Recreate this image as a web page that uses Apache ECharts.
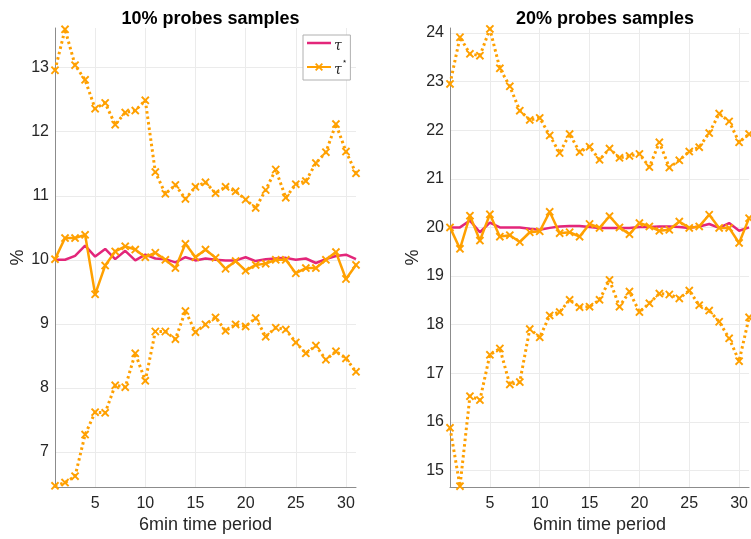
<!DOCTYPE html>
<html>
<head>
<meta charset="utf-8">
<script src="https://cdn.jsdelivr.net/npm/echarts@6/dist/echarts.min.js"></script>
<style>html,body{margin:0;padding:0;background:#fff}#c{width:751px;height:539px}</style>
</head>
<body>
<div id="c"></div>
<script>
// time periods
const periods = Array.from({length: 31}, (_, i) => i + 1);
const xTicks = [5, 10, 15, 20, 25, 30];

// 10% probes samples
const tau10 = [10.0,10.0,10.06,10.22,10.05,10.17,10.01,10.14,9.99,10.08,10.02,10.01,9.96,10.04,9.99,10.02,10.0,9.99,9.99,10.04,9.98,10.01,10.02,10.03,10.0,10.02,9.95,10.01,10.06,10.08,10.01];
const star10 = [10.01,10.34,10.34,10.39,9.46,9.91,10.13,10.21,10.16,10.04,10.11,10.0,9.87,10.25,10.04,10.16,10.03,9.86,9.98,9.83,9.92,9.94,10.0,10.0,9.79,9.87,9.87,10.0,10.12,9.70,9.92];
const upper10 = [12.96,13.60,13.04,12.81,12.36,12.45,12.11,12.30,12.33,12.49,11.37,11.03,11.17,10.95,11.14,11.21,11.04,11.14,11.07,10.94,10.81,11.09,11.41,10.97,11.18,11.23,11.51,11.68,12.12,11.69,11.35];
const lower10 = [6.47,6.52,6.62,7.27,7.62,7.61,8.04,8.01,8.54,8.11,8.88,8.88,8.76,9.20,8.87,8.99,9.10,8.89,8.99,8.96,9.09,8.80,8.94,8.91,8.71,8.54,8.66,8.44,8.57,8.46,8.25];
const yTicks10 = [7, 8, 9, 10, 11, 12, 13];

// 20% probes samples
const tau20 = [20.0,20.0,20.14,19.90,20.10,20.0,20.0,20.0,19.97,19.95,19.99,20.02,20.03,20.03,20.01,19.99,19.99,19.99,19.99,20.01,20.01,20.02,20.02,20.01,19.99,20.02,20.07,19.99,20.09,19.93,20.0];
const star20 = [20.0,19.56,20.24,19.73,20.27,19.81,19.84,19.70,19.90,19.92,20.32,19.88,19.90,19.81,20.07,19.99,20.23,20.0,19.86,20.09,20.02,19.93,19.95,20.12,19.99,20.02,20.26,19.99,19.99,19.68,20.19];
const upper20 = [22.95,23.91,23.57,23.53,24.08,23.27,22.90,22.40,22.21,22.25,21.89,21.53,21.92,21.55,21.66,21.39,21.62,21.43,21.47,21.51,21.24,21.75,21.23,21.38,21.56,21.65,21.94,22.34,22.18,21.75,21.92];
const lower20 = [15.88,14.68,16.53,16.45,17.38,17.51,16.77,16.82,17.91,17.74,18.19,18.26,18.51,18.36,18.37,18.51,18.92,18.37,18.68,18.26,18.44,18.64,18.62,18.54,18.70,18.40,18.29,18.06,17.72,17.25,18.15];
const yTicks20 = [15, 16, 17, 18, 19, 20, 21, 22, 23, 24];

const titles = ['10% probes samples', '20% probes samples'];
const xName = '6min time period';
const yName = '%';

const MAGENTA = '#E3267A';
const ORANGE = '#FFA000';
const X_SYMBOL = 'path://M0,1.6L1.6,0L5,3.4L8.4,0L10,1.6L6.6,5L10,8.4L8.4,10L5,6.6L1.6,10L0,8.4L3.4,5Z';
const LINE_ICON = 'path://M0,0L24,0L24,2.5L0,2.5Z';
const FONT = 'Helvetica, Arial, "Liberation Sans", sans-serif';

const pairs = a => a.map((v, i) => [periods[i], v]);
const tight = arrs => {
  const all = [].concat(...arrs);
  return [Math.min(...all) - 0.02, Math.max(...all) + 0.02];
};
const r10 = tight([tau10, star10, upper10, lower10]);
const r20 = tight([tau20, star20, upper20, lower20]);

const grids = [
  {left: 55, top: 28, width: 301, height: 460},
  {left: 450, top: 28, width: 300, height: 460}
];

function xAxis(gi) {
  return {
    type: 'value', gridIndex: gi, min: 1, max: 31,
    name: xName, nameLocation: 'middle', nameGap: 27,
    nameTextStyle: {fontFamily: FONT, fontSize: 18, color: '#262626'},
    axisLine: {show: true, lineStyle: {color: '#8c8c8c', width: 1}},
    axisTick: {show: false, customValues: xTicks},
    axisLabel: {customValues: xTicks, fontFamily: FONT, fontSize: 16, color: '#262626', margin: 8},
    splitLine: {show: true, lineStyle: {color: '#ebebeb', width: 1}}
  };
}
function yAxis(gi, r, ticks) {
  return {
    type: 'value', gridIndex: gi, min: r[0], max: r[1],
    name: yName, nameLocation: 'middle', nameGap: 24, nameRotate: 90,
    nameTextStyle: {fontFamily: FONT, fontSize: 18, color: '#262626'},
    axisLine: {show: true, lineStyle: {color: '#8c8c8c', width: 1}},
    axisTick: {show: false, customValues: ticks},
    axisLabel: {customValues: ticks, fontFamily: FONT, fontSize: 16, color: '#262626', margin: 6},
    splitLine: {show: true, lineStyle: {color: '#ebebeb', width: 1}}
  };
}

function tauSeries(gi, data) {
  return {
    name: 'τ', type: 'line', xAxisIndex: gi, yAxisIndex: gi, data: pairs(data),
    showSymbol: false, symbol: 'none', lineStyle: {color: MAGENTA, width: 2.5},
    itemStyle: {color: MAGENTA}, z: 3, animation: false
  };
}
function starSeries(gi, data, name, dotted) {
  return {
    name: name, type: 'line', xAxisIndex: gi, yAxisIndex: gi, data: pairs(data),
    symbol: X_SYMBOL, symbolSize: 8.5, showSymbol: true,
    lineStyle: {color: ORANGE, width: dotted ? 3 : 2.5, type: dotted ? [2.5, 3] : 'solid'},
    itemStyle: {color: ORANGE}, z: 4, animation: false
  };
}

const chart = echarts.init(document.getElementById('c'), null, {renderer: 'canvas'});
chart.setOption({
  backgroundColor: '#fff',
  animation: false,
  title: [
    {text: titles[0], left: 205.5, top: 5, textAlign: 'center',
     textStyle: {fontFamily: FONT, fontSize: 18, fontWeight: 'bold', color: '#000'}},
    {text: titles[1], left: 600, top: 5, textAlign: 'center',
     textStyle: {fontFamily: FONT, fontSize: 18, fontWeight: 'bold', color: '#000'}}
  ],
  legend: {
    data: [{name: 'τ', icon: LINE_ICON}, {name: 'τ*'}],
    orient: 'vertical', left: 303, top: 35,
    backgroundColor: '#fff', borderColor: '#b0b0b0', borderWidth: 1, borderRadius: 0,
    padding: [4, 3, 3, 3], itemWidth: 24, itemHeight: 10, itemGap: 4,
    formatter: n => n === 'τ*' ? '{t|τ}{s|⋆}' : '{t|τ}',
    textStyle: {
      padding: [0, 0, 0, -2],
      rich: {
        t: {fontFamily: '"DejaVu Serif", serif', fontStyle: 'italic', fontSize: 14, color: '#262626', verticalAlign: 'bottom', lineHeight: 20},
        s: {fontFamily: '"DejaVu Sans", sans-serif', fontSize: 9, color: '#262626', verticalAlign: 'top', lineHeight: 20}
      }
    }
  },
  grid: grids,
  xAxis: [xAxis(0), xAxis(1)],
  yAxis: [yAxis(0, r10, yTicks10), yAxis(1, r20, yTicks20)],
  series: [
    tauSeries(0, tau10),
    starSeries(0, star10, 'τ*', false),
    starSeries(0, upper10, 'upper10', true),
    starSeries(0, lower10, 'lower10', true),
    tauSeries(1, tau20),
    starSeries(1, star20, 'τ*', false),
    starSeries(1, upper20, 'upper20', true),
    starSeries(1, lower20, 'lower20', true)
  ]
});
</script>
</body>
</html>
